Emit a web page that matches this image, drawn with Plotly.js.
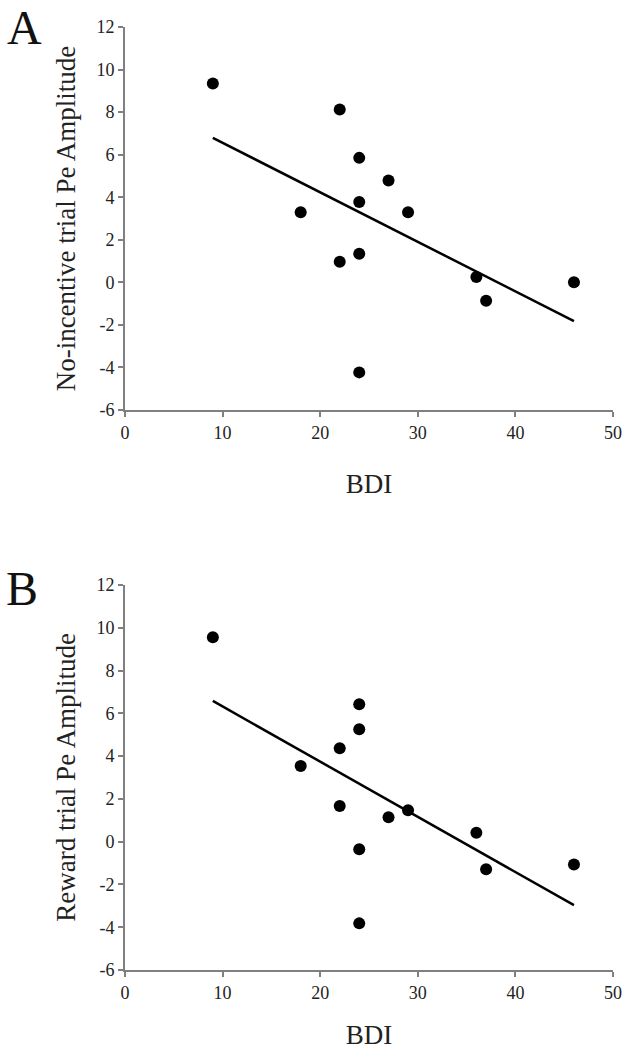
<!DOCTYPE html>
<html>
<head>
<meta charset="utf-8">
<script src="https://cdn.plot.ly/plotly-3.0.1.min.js"></script>
<style>html,body{margin:0;padding:0;background:#fff;}#chart{width:627px;height:1050px;}</style>
</head>
<body>
<div id="chart"></div>
<script>
// BDI scores (shared by both panels)
const bdi = [9, 18, 22, 22, 24, 24, 24, 24, 27, 29, 36, 37, 46];
// Panel A: No-incentive trial Pe amplitude
const peNoIncentive = [9.34, 3.30, 8.12, 0.97, 5.85, 3.78, 1.34, -4.23, 4.79, 3.30, 0.25, -0.86, 0.01];
// Panel B: Reward trial Pe amplitude
const peReward = [9.56, 3.54, 4.37, 1.67, 6.42, 5.25, -0.36, -3.82, 1.14, 1.47, 0.42, -1.29, -1.07];
// Fitted regression lines (endpoints)
const fitX = [9, 46];
const fitNoIncentive = [6.79, -1.82];
const fitReward = [6.58, -2.97];
// Tick labels
const xTickVals = [0, 10, 20, 30, 40, 50];
const xTickText = ["0", "10", "20", "30", "40", "50"];
const yTickVals = [-6, -4, -2, 0, 2, 4, 6, 8, 10, 12];
const yTickText = ["-6", "-4", "-2", "0", "2", "4", "6", "8", "10", "12"];
const xTitle = "BDI";
const yTitleA = "No-incentive trial Pe Amplitude";
const yTitleB = "Reward trial Pe Amplitude";
const panelLabels = ["A", "B"];

const FONT = "Liberation Serif, Times New Roman, serif";

function scatter(y, xa, ya) {
  return {x: bdi, y: y, xaxis: xa, yaxis: ya, type: "scatter", mode: "markers",
    marker: {color: "#000", size: 12}, hoverinfo: "x+y", showlegend: false};
}
function fit(y, xa, ya) {
  return {x: fitX, y: y, xaxis: xa, yaxis: ya, type: "scatter", mode: "lines",
    line: {color: "#000", width: 2.5}, hoverinfo: "skip", showlegend: false};
}

const data = [
  fit(fitNoIncentive, "x", "y"), scatter(peNoIncentive, "x", "y"),
  fit(fitReward, "x2", "y2"), scatter(peReward, "x2", "y2")
];

function xaxis(anchor) {
  return {anchor: anchor, domain: [0, 1], range: [0, 50], tickmode: "array", tickvals: xTickVals, ticktext: xTickText,
    showgrid: false, zeroline: false, showline: true, linecolor: "#808080", linewidth: 2,
    ticks: "outside", ticklen: 5, tickwidth: 2, tickcolor: "#808080",
    tickfont: {family: FONT, size: 18, color: "#222"},
    title: {text: xTitle, font: {family: FONT, size: 27, color: "#222"}, standoff: 32},
    automargin: false, fixedrange: true};
}
function yaxis(anchor, domain, title) {
  return {anchor: anchor, domain: domain, range: [-6, 12], tickmode: "array", tickvals: yTickVals, ticktext: yTickText,
    showgrid: false, zeroline: false, showline: true, linecolor: "#808080", linewidth: 2,
    ticks: "outside", ticklen: 5, tickwidth: 2, tickcolor: "#808080",
    tickfont: {family: FONT, size: 18, color: "#222"},
    title: {text: title, font: {family: FONT, size: 27, color: "#222"}, standoff: 13},
    automargin: false, fixedrange: true};
}

const layout = {
  width: 627, height: 1050,
  margin: {l: 125, r: 14, t: 27, b: 80},
  paper_bgcolor: "#fff", plot_bgcolor: "#fff",
  font: {family: FONT, color: "#222", size: 18},
  xaxis: xaxis("y"),
  yaxis: yaxis("x", [0.5938, 1], yTitleA),
  xaxis2: xaxis("y2"),
  yaxis2: yaxis("x2", [0, 0.4083], yTitleB),
  annotations: [
    {text: panelLabels[0], xref: "paper", yref: "paper", x: -0.205, y: 1.0, xanchor: "center", yanchor: "middle",
     showarrow: false, font: {family: FONT, size: 48, color: "#111"}},
    {text: panelLabels[1], xref: "paper", yref: "paper", x: -0.211, y: 0.405, xanchor: "center", yanchor: "middle",
     showarrow: false, font: {family: FONT, size: 48, color: "#111"}}
  ]
};

Plotly.newPlot("chart", data, layout, {displayModeBar: false, staticPlot: true});
</script>
</body>
</html>
